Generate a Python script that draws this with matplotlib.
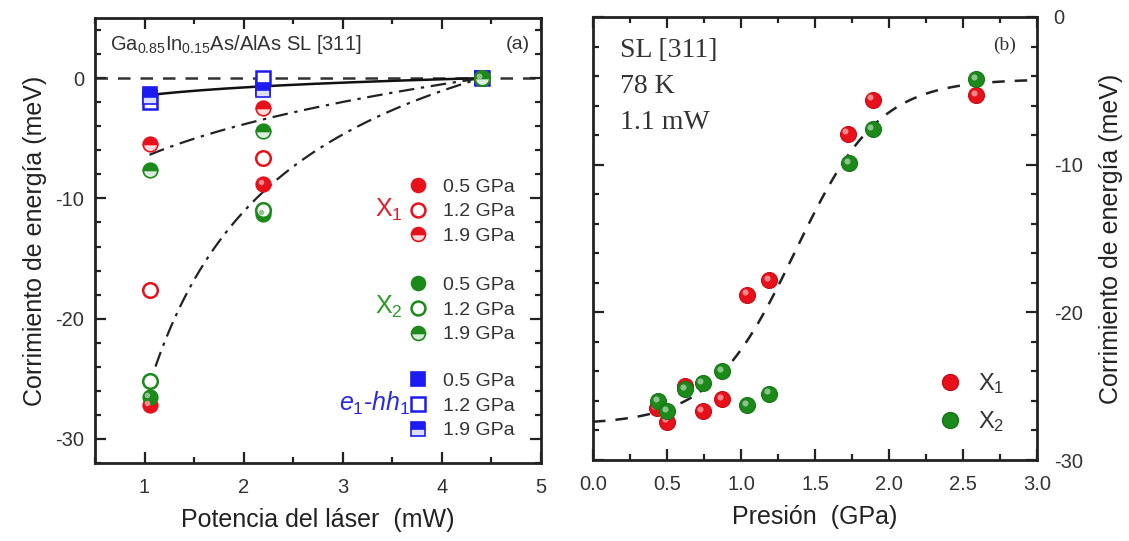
import numpy as np
import matplotlib
matplotlib.use("Agg")
import matplotlib.pyplot as plt
import matplotlib.transforms as mtransforms
from matplotlib.legend import Legend
from matplotlib.lines import Line2D
from matplotlib.ticker import MultipleLocator, FormatStrFormatter

plt.rcParams["font.family"] = ["Liberation Sans", "DejaVu Sans"]
plt.rcParams["axes.unicode_minus"] = False
plt.rcParams["mathtext.fontset"] = "custom"
plt.rcParams["mathtext.rm"] = "Liberation Sans"
plt.rcParams["mathtext.it"] = "Liberation Sans:italic"

# ---------------- panel (a): shift vs laser power ----------------
power_mw = [1.05, 2.2, 4.4]
x1_05gpa = [-27.2, -8.8, 0.0]
x1_12gpa = [-17.6, -6.6, 0.0]
x1_19gpa = [-5.5, -2.5, 0.0]
x2_05gpa = [-26.5, -11.3, 0.0]
x2_12gpa = [-25.2, -11.0, 0.0]
x2_19gpa = [-7.6, -4.4, 0.0]
eh_05gpa = [-1.3, -0.8, 0.0]
eh_12gpa = [-2.0, 0.0, 0.0]
eh_19gpa = [-1.6, -1.0, 0.0]
pressure_labels = ["0.5 GPa", "1.2 GPa", "1.9 GPa"]

# fitted guide curves through the 4.4 mW reference point
p_ref = 4.4
fit_log_amp = 0.98          # e1-hh1: A*ln(P/Pref)
fit_pow_amp, fit_pow_n = 11.7, 0.3    # upper X guide: -A*(Pref^n - P^n)
fit_inv_amp, fit_inv_n = 43.4, 0.65   # lower X guide: -A*(P^-n - Pref^-n)

# ---------------- panel (b): shift vs pressure ----------------
press_x1 = [0.43, 0.50, 0.62, 0.74, 0.87, 1.04, 1.19, 1.72, 1.89, 2.59]
shift_x1 = [-26.5, -27.4, -25.0, -26.7, -25.9, -18.8, -17.8, -7.9, -5.6, -5.3]
press_x2 = [0.44, 0.50, 0.62, 0.74, 0.87, 1.04, 1.19, 1.73, 1.89, 2.59]
shift_x2 = [-26.0, -26.7, -25.2, -24.8, -24.0, -26.3, -25.5, -9.9, -7.6, -4.2]

# sigmoidal guide for panel (b)
sig_low, sig_high, sig_center, sig_width = -27.6, -4.2, 1.365, 0.284

RED = "#e8101a"
GREEN = "#1b8a1b"
BLUE = "#1c1cf0"
W, H = 1129, 541


def lighten(c, f):
    rgb = np.array(matplotlib.colors.to_rgb(c))
    return tuple(rgb + (1 - rgb) * f)


def darken(c, f):
    rgb = np.array(matplotlib.colors.to_rgb(c))
    return tuple(rgb * (1 - f))


def balls(ax, x, y, color, ms, z=3):
    """Shaded spheres: solid disc plus an offset highlight."""
    ax.plot(x, y, ls="none", marker="o", ms=ms, mfc=color,
            mec=darken(color, 0.15), mew=0.8, zorder=z)
    off = mtransforms.offset_copy(ax.transData, fig=ax.figure, x=-1.6, y=1.6,
                                  units="points")
    ax.plot(x, y, ls="none", marker="o", ms=ms * 0.38,
            mfc=lighten(color, 0.55), mec="none", alpha=0.9,
            transform=off, zorder=z + 0.1)


def marker_kw(kind, color, shape, ms):
    if kind == "full":
        return dict(marker=shape, ms=ms, mfc=color, mec=color, mew=1.2)
    if kind == "open":
        return dict(marker=shape, ms=ms, mfc="white", mec=color, mew=1.8)
    return dict(marker=shape, ms=ms, mfc=color, mec=color, mew=1.2,
                fillstyle="top", mfcalt=lighten(color, 0.85))


fig = plt.figure(figsize=(W / 100, H / 100), dpi=100)
ax1 = fig.add_axes([95 / W, 78 / H, 446 / W, 445 / H])
ax2 = fig.add_axes([593 / W, 81 / H, 444 / W, 443 / H])

for ax in (ax1, ax2):
    for s in ax.spines.values():
        s.set_linewidth(2.0)
        s.set_color("#222222")
    ax.tick_params(which="both", direction="in", top=True, right=True,
                   width=1.6, colors="#222222", labelsize=14.5,
                   labelcolor="#333333")
    ax.tick_params(which="major", length=8)
    ax.tick_params(which="minor", length=4.5)

# ---------------- panel (a) ----------------
ax1.set_xlim(0.5, 5)
ax1.set_ylim(-32, 5)
ax1.xaxis.set_major_locator(MultipleLocator(1))
ax1.xaxis.set_minor_locator(MultipleLocator(0.5))
ax1.yaxis.set_major_locator(MultipleLocator(10))
ax1.yaxis.set_minor_locator(MultipleLocator(2))
ax1.tick_params(axis="x", pad=11)
ax1.tick_params(axis="y", pad=8)

ax1.axhline(0, color="#333333", lw=1.8, ls=(0, (5, 4)), zorder=1)

pp = np.linspace(power_mw[0], p_ref, 200)
ax1.plot(pp, fit_log_amp * np.log(pp / p_ref), color="#111111", lw=1.8,
         zorder=2)
ax1.plot(pp, -fit_pow_amp * (p_ref ** fit_pow_n - pp ** fit_pow_n),
         color="#222222", lw=1.6, ls=(0, (7, 3, 1.5, 3)), zorder=2)
pp2 = np.linspace(1.11, p_ref, 200)
ax1.plot(pp2, -fit_inv_amp * (pp2 ** -fit_inv_n - p_ref ** -fit_inv_n),
         color="#222222", lw=1.6, ls=(0, (7, 3, 1.5, 3)), zorder=2)

series_a = [
    (eh_05gpa, BLUE, "s", "full"), (eh_12gpa, BLUE, "s", "open"),
    (eh_19gpa, BLUE, "s", "half"),
    (x1_05gpa, RED, "o", "full"), (x1_12gpa, RED, "o", "open"),
    (x1_19gpa, RED, "o", "half"),
    (x2_05gpa, GREEN, "o", "full"), (x2_12gpa, GREEN, "o", "open"),
    (x2_19gpa, GREEN, "o", "half"),
]
handles = {}
for vals, col, shape, kind in series_a:
    kw = marker_kw(kind, col, shape, 10.5)
    ax1.plot(power_mw, vals, ls="none", zorder=3, **kw)
    if kind == "full" and shape == "o":
        off = mtransforms.offset_copy(ax1.transData, fig=fig, x=-1.5, y=1.5,
                                      units="points")
        ax1.plot(power_mw, vals, ls="none", marker="o", ms=4,
                 mfc=lighten(col, 0.5), mec="none", transform=off, zorder=3.1)
    handles[(col, kind)] = Line2D([], [], ls="none",
                                  **marker_kw(kind, col, shape, 10))

leg_kw = dict(frameon=False, fontsize=14, handlelength=1.0,
              handletextpad=0.8, borderpad=0, borderaxespad=0,
              labelspacing=0.36, loc="upper left", labelcolor="#333333")
tops = [0.640, 0.419, 0.203]
groups = [(RED, r"X$_1$"), (GREEN, r"X$_2$"), (BLUE, r"$e_1$-$hh_1$")]
for (col, glabel), top in zip(groups, tops):
    lg = Legend(ax1, [handles[(col, k)] for k in ("full", "open", "half")],
                pressure_labels, bbox_to_anchor=(0.702, top),
                bbox_transform=ax1.transAxes, **leg_kw)
    ax1.add_artist(lg)

ax1.text(0.69, 0.568, r"X$_1$", color="#e0202c", fontsize=18,
         transform=ax1.transAxes, ha="right", va="center")
ax1.text(0.69, 0.350, r"X$_2$", color="#2a9a2a", fontsize=18,
         transform=ax1.transAxes, ha="right", va="center")
ax1.text(0.708, 0.133, r"$e_1$-$hh_1$", color="#2a2ae0", fontsize=18,
         transform=ax1.transAxes, ha="right", va="center")

ax1.text(0.034, 0.94, r"Ga$_{0.85}$In$_{0.15}$As/AlAs SL [311]",
         transform=ax1.transAxes, fontsize=14.5, color="#333333",
         va="center", ha="left")
ax1.text(0.975, 0.94, "(a)", transform=ax1.transAxes, fontsize=14,
         color="#333333", va="center", ha="right")

ax1.set_xlabel("Potencia del láser  (mW)", fontsize=18, color="#222222",
               labelpad=8)
ax1.set_ylabel("Corrimiento de energía (meV)", fontsize=18, color="#222222",
               labelpad=6)

# ---------------- panel (b) ----------------
ax2.set_xlim(0, 3)
ax2.set_ylim(-30, 0)
ax2.xaxis.set_major_locator(MultipleLocator(0.5))
ax2.xaxis.set_minor_locator(MultipleLocator(0.25))
ax2.xaxis.set_major_formatter(FormatStrFormatter("%.1f"))
ax2.yaxis.set_major_locator(MultipleLocator(10))
ax2.yaxis.set_minor_locator(MultipleLocator(2))
ax2.tick_params(axis="y", which="both", left=True, right=True,
                labelleft=False, labelright=True, pad=12)
ax2.tick_params(axis="x", pad=11)
ax2.yaxis.set_label_position("right")

xx = np.linspace(0, 3, 300)
ax2.plot(xx, sig_low + (sig_high - sig_low) /
         (1 + np.exp(-(xx - sig_center) / sig_width)),
         color="#222222", lw=1.8, ls=(0, (5, 4)), zorder=2)

balls(ax2, press_x1, shift_x1, RED, 11.5, z=3)
balls(ax2, press_x2, shift_x2, GREEN, 11.5, z=4)

h1 = Line2D([], [], ls="none", marker="o", ms=11.5, mfc=RED,
            mec=darken(RED, 0.15))
h2 = Line2D([], [], ls="none", marker="o", ms=11.5, mfc=GREEN,
            mec=darken(GREEN, 0.15))
ax2.legend([h1, h2], [r"X$_1$", r"X$_2$"], frameon=False, fontsize=17,
           handlelength=0.9, handletextpad=0.7, borderpad=0, borderaxespad=0,
           labelspacing=0.55, loc="upper left", bbox_to_anchor=(0.781, 0.200),
           labelcolor="#333333")

serif = ["Liberation Serif", "DejaVu Serif"]
for txt, yf in (("SL [311]", 0.925), ("78 K", 0.842), ("1.1 mW", 0.761)):
    ax2.text(0.061, yf, txt, transform=ax2.transAxes, fontsize=20,
             family=serif, color="#333333", va="center", ha="left")
ax2.text(0.953, 0.937, "(b)", transform=ax2.transAxes, fontsize=14,
         family=serif, color="#333333", va="center", ha="right")

ax2.set_xlabel("Presión  (GPa)", fontsize=18, color="#222222", labelpad=8)
ax2.set_ylabel("Corrimiento de energía (meV)", fontsize=18, color="#222222",
               labelpad=12)

fig.savefig("out.png", dpi=100, facecolor="white")
